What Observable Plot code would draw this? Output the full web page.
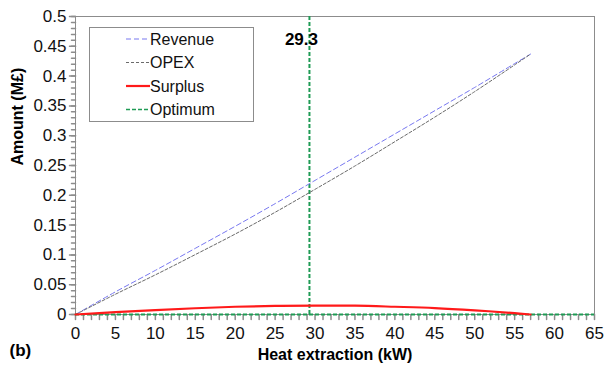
<!DOCTYPE html>
<html>
<head>
<meta charset="utf-8">
<script src="https://cdn.jsdelivr.net/npm/d3@7"></script>
<script src="https://cdn.jsdelivr.net/npm/@observablehq/plot@0.6"></script>
<style>
  body { margin: 0; background: #fff; }
  #chart { width: 607px; height: 372px; }
</style>
</head>
<body>
<div id="chart"></div>
<script>
// Heat extraction (kW) and the economics at each level (M£)
const heat    = [0, 5, 10, 15, 20, 25, 30, 35, 40, 45, 50, 55, 57];
const revenue = [0, 0.038, 0.074, 0.111, 0.148, 0.186, 0.225, 0.264, 0.303, 0.342, 0.381, 0.421, 0.437];
const opex    = [0, 0.034, 0.0665, 0.1005, 0.135, 0.1715, 0.210, 0.2492, 0.290, 0.3312, 0.374, 0.4188, 0.437];
const surplus = [0, 0.004, 0.0075, 0.0105, 0.013, 0.0145, 0.015, 0.0148, 0.013, 0.0108, 0.007, 0.0022, 0];
const optimum = 29.3;

const xTicks = [0, 5, 10, 15, 20, 25, 30, 35, 40, 45, 50, 55, 60, 65];
const yTicks = [0, 0.05, 0.1, 0.15, 0.2, 0.25, 0.3, 0.35, 0.4, 0.45, 0.5];

const series = [
  {name: "Revenue", values: revenue, stroke: "#7878f0", width: 1,   dash: "5,3"},
  {name: "OPEX",    values: opex,    stroke: "#6a6a6a", width: 1,   dash: "3,2"},
  {name: "Surplus", values: surplus, stroke: "#ff1a1a", width: 2.2, dash: null}
];
const rows = series.flatMap(s => heat.map((h, i) => ({name: s.name, x: h, y: s.values[i]})));

const font = '"Liberation Sans", Arial, sans-serif';
const green = "#1f9b55";
const axisGray = "#8c8c8c";

// small straight tick drawn from its anchor point
const spike = {draw(ctx, l) { ctx.moveTo(0, 0); ctx.lineTo(0, -l); }};
const xMinor = d3.range(0, 65.5, 1);
const yMinor = d3.range(0, 0.5001, 0.01);

const chart = Plot.plot({
  width: 607,
  height: 372,
  marginLeft: 75,
  marginRight: 13,
  marginTop: 16,
  marginBottom: 58,
  style: {fontFamily: font, fontSize: "17px", color: "#111", background: "#fff"},
  x: {domain: [0, 65]},
  y: {domain: [0, 0.5]},
  marks: [
    Plot.frame({stroke: axisGray}),
    // axis tick marks
    Plot.vector(xMinor, {x: d => d, y: 0, length: 5, rotate: 180, anchor: "start", shape: spike, stroke: axisGray}),
    Plot.vector(yMinor, {x: 0, y: d => d, length: 4, rotate: 270, anchor: "start", shape: spike, stroke: axisGray}),
    Plot.vector(yTicks, {x: 0, y: d => d, length: 6, rotate: 270, anchor: "start", shape: spike, stroke: axisGray}),
    Plot.axisX({ticks: xTicks, tickSize: 0, tickPadding: 12, tickFormat: d => String(d), label: null, fontSize: 17}),
    Plot.axisY({ticks: yTicks, tickSize: 0, tickPadding: 9, tickFormat: d => String(+d.toFixed(2)), label: null, fontSize: 17}),
    // optimum marker: baseline and vertical at the optimum
    Plot.ruleY([0], {stroke: green, strokeWidth: 2, strokeDasharray: "4,2"}),
    Plot.ruleX([optimum], {stroke: green, strokeWidth: 2, strokeDasharray: "4,2"}),
    ...series.map(s => Plot.line(rows.filter(r => r.name === s.name), {
      x: "x", y: "y", curve: "catmull-rom",
      stroke: s.stroke, strokeWidth: s.width, strokeDasharray: s.dash
    })),
    Plot.text([optimum], {x: d => d, y: 0.461, text: d => d.toFixed(1), dx: -8, fontSize: 17, fontWeight: "bold", fill: "#000"}),
    Plot.text(["Amount (M£)"], {frameAnchor: "left", dx: -58, rotate: -90, fontSize: 16, fontWeight: "bold", fill: "#000"}),
    Plot.text(["Heat extraction (kW)"], {frameAnchor: "bottom", dy: 45, fontSize: 16, fontWeight: "bold", fill: "#000"}),
    Plot.text(["(b)"], {frameAnchor: "bottom-left", dx: -66, dy: 41, textAnchor: "start", fontSize: 17, fontWeight: "bold", fill: "#000"})
  ]
});

// legend box in the upper left of the plot area
const svg = d3.select(chart);
const lg = svg.append("g").attr("font-family", font).attr("font-size", 16).attr("text-anchor", "start");
lg.append("rect").attr("x", 89.5).attr("y", 27.5).attr("width", 164).attr("height", 94)
  .attr("fill", "#fff").attr("stroke", axisGray);
const entries = [
  ...series.map(s => ({name: s.name, stroke: s.stroke, width: s.width === 1 ? 1.2 : 2.2, dash: s.dash})),
  {name: "Optimum", stroke: green, width: 1.5, dash: "4,2"}
];
entries.forEach((e, i) => {
  const y = 39 + i * 23.5;
  lg.append("line").attr("x1", 126).attr("x2", 150).attr("y1", y).attr("y2", y)
    .attr("stroke", e.stroke).attr("stroke-width", e.width)
    .attr("stroke-dasharray", e.dash);
  lg.append("text").attr("x", 150).attr("y", y).attr("dy", "0.35em").attr("fill", "#111").text(e.name);
});

document.getElementById("chart").append(chart);
</script>
</body>
</html>
